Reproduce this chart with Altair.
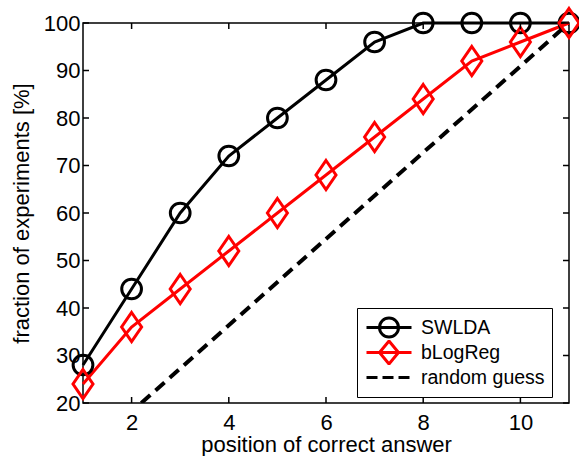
import altair as alt
import pandas as pd

# ---- data ----
positions = [1, 2, 3, 4, 5, 6, 7, 8, 9, 10, 11]
swlda = [28, 44, 60, 72, 80, 88, 96, 100, 100, 100, 100]
blogreg = [24, 36, 44, 52, 60, 68, 76, 84, 92, 96, 100]
random_x = [2.2, 11]
random_y = [20, 100]
series_names = ["SWLDA", "bLogReg", "random guess"]
x_ticks = [2, 4, 6, 8, 10]
y_ticks = [20, 30, 40, 50, 60, 70, 80, 90, 100]

FONT = "Liberation Sans"
W, H = 486, 380

df_sw = pd.DataFrame({"pos": positions, "val": swlda})
df_bl = pd.DataFrame({"pos": positions, "val": blogreg})
df_rg = pd.DataFrame({"pos": random_x, "val": random_y})
df_xt = pd.DataFrame({"pos": x_ticks})
df_yt = pd.DataFrame({"val": y_ticks})
df_leg = pd.DataFrame({"series": series_names})

xs = alt.Scale(domain=[1, 11], nice=False, zero=False)
ys = alt.Scale(domain=[20, 100], nice=False, zero=False)
xaxis = alt.Axis(values=x_ticks, title="position of correct answer", ticks=False,
                 domain=False, grid=False, labelPadding=9, titlePadding=1,
                 labelFlush=False, labelOverlap=False)
yaxis = alt.Axis(values=y_ticks, title="fraction of experiments [%]", ticks=False,
                 domain=False, grid=False, labelPadding=3, titlePadding=10,
                 labelFlush=False, labelOverlap=False)


def X(f):
    return alt.X(f, type="quantitative", scale=xs, axis=xaxis)


def Y(f):
    return alt.Y(f, type="quantitative", scale=ys, axis=yaxis)


diamond = "M0,-1.45L1,0L0,1.45L-1,0Z"

random_line = alt.Chart(df_rg).mark_line(
    color="black", strokeWidth=4, strokeDash=[12, 7], clip=True
).encode(x=X("pos"), y=Y("val"))

sw_line = alt.Chart(df_sw).mark_line(color="black", strokeWidth=3).encode(
    x=X("pos"), y=Y("val"))
sw_pts = alt.Chart(df_sw).mark_point(
    shape="circle", size=390, filled=False, color="black", strokeWidth=3, opacity=1
).encode(x=X("pos"), y=Y("val"))

bl_line = alt.Chart(df_bl).mark_line(color="#ff0000", strokeWidth=3).encode(
    x=X("pos"), y=Y("val"))
bl_pts = alt.Chart(df_bl).mark_point(
    shape=diamond, size=400, filled=False, color="#ff0000", strokeWidth=3, opacity=1
).encode(x=X("pos"), y=Y("val"))

tick_style = dict(color="black", strokeWidth=1.5)
xt_bottom = alt.Chart(df_xt).mark_rule(**tick_style).encode(
    x=X("pos"), y=alt.value(H), y2=alt.value(H - 6))
xt_top = alt.Chart(df_xt).mark_rule(**tick_style).encode(
    x=X("pos"), y=alt.value(0), y2=alt.value(6))
yt_left = alt.Chart(df_yt).mark_rule(**tick_style).encode(
    y=Y("val"), x=alt.value(0), x2=alt.value(6))
yt_right = alt.Chart(df_yt).mark_rule(**tick_style).encode(
    y=Y("val"), x=alt.value(W), x2=alt.value(W - 6))

# legend symbols: line + marker drawn as one custom path each
leg_circle = "M-0.9,0L3.6,0M0.4,0A0.95,0.95 0 1,0 2.3,0A0.95,0.95 0 1,0 0.4,0"
leg_diamond = "M-0.9,0L3.6,0M1.35,-1.15L2.3,0L1.35,1.15L0.4,0Z"
leg_dash = "M-0.9,0L0.2,0M0.7,0L1.8,0M2.3,0L3.4,0"

leg = alt.Legend(
    orient="none", legendX=274, legendY=285, title=None,
    symbolSize=400, symbolStrokeWidth=3, labelOffset=34,
    labelFont=FONT, labelFontSize=19.5, labelColor="black",
    strokeColor="black", fillColor="white", padding=7,
    rowPadding=0, clipHeight=25, cornerRadius=0, labelLimit=300)

legend_layer = alt.Chart(df_leg).mark_point(filled=False, strokeWidth=3, opacity=1).encode(
    x=alt.value(0), y=alt.value(0),
    shape=alt.Shape("series:N",
                    scale=alt.Scale(domain=series_names,
                                    range=[leg_circle, leg_diamond, leg_dash]),
                    legend=leg),
    color=alt.Color("series:N",
                    scale=alt.Scale(domain=series_names,
                                    range=["black", "#ff0000", "black"]),
                    legend=leg),
).transform_filter("false")

chart = alt.layer(
    random_line, sw_line, bl_line, sw_pts, bl_pts,
    xt_bottom, xt_top, yt_left, yt_right, legend_layer
).properties(
    width=W, height=H,
    autosize=alt.AutoSizeParams(type="none"),
    padding={"left": 83, "top": 23, "right": 10, "bottom": 53},
    background="white",
).configure_view(
    stroke="black", strokeWidth=1.5
).configure_axis(
    labelFont=FONT, labelFontSize=22, labelColor="black",
    titleFont=FONT, titleFontSize=22, titleColor="black", titleFontWeight="normal",
)

chart.save("out.html", embed_options={"renderer": "svg", "actions": False})
